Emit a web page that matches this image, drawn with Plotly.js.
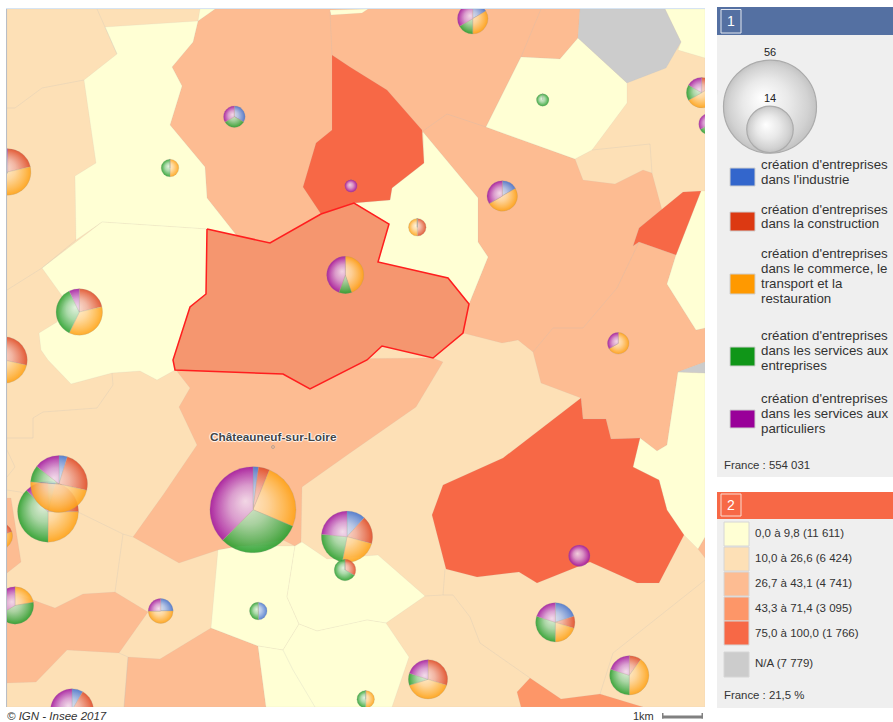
<!DOCTYPE html>
<html><head><meta charset="utf-8">
<script src="https://cdn.plot.ly/plotly-3.0.1.min.js"></script>
<style>html,body{margin:0;padding:0;background:#fff;overflow:hidden;width:893px;height:722px}
#wrap{position:absolute;left:0;top:0;width:893px;height:722px;overflow:hidden}
#chart{position:absolute;left:-60px;top:-60px}</style>
</head><body><div id="wrap"><div id="chart"></div></div>
<script>
// ---- pie data: firm creations per commune, by sector ----
const pieNames  = ['A','B','C','D','E','F','G','H','I','J','K','L','M','N','P','O','Q','R','S','T','U','V','W','X','Y','Z','AA','AB','AC'];
const industrie = [0,1,0,0,0,0,0,1,0,1,0,0,0,0,1,1,1,2,0,1,1,0,0,1,0,2,0,0,0];
const construction=[3,0,0,3,4,0,0,0,0,0,1,0,1,0,5,5,2,3,1,0,0,0,1,3,0,1,3,1,0];
const commerce  = [5,0,1,5,4,0,4,2,0,3,1,2,3,1,6,10,12,4,0,2,0,2,1,2,0,2,4,4,1];
const servEntr  = [2,1,1,5,3,0,1,1,1,0,0,0,1,1,9,2,15,4,2,0,1,4,1,2,0,3,1,3,1];
const servPart  = [4,1,0,1,3,1,4,2,0,2,0,1,1,1,3,3,18,4,0,1,0,3,2,4,3,2,2,2,0];
const pieCentreX= [7.7,234.3,170,79.3,4,351,345.3,472.7,542.7,502.3,417.3,618.3,701.7,709.5,48,59,253,347,345,160.7,258.3,15,-1.3,72,579.3,555.3,428,629.3,365.7];
const pieCentreY= [172,116.7,168,312,360,186,275,18.7,100,196,227.3,343.3,92.7,124,511.7,484,509.7,536.7,570,611,611,605.5,536,710.3,555.7,622.3,679.3,675.3,699.3];
const sectorLabels=["dans l'industrie","dans la construction","dans le commerce, le transport et la restauration","dans les services aux entreprises","dans les services aux particuliers"];
const sectorColors=['#3366CC','#DC3912','#FF9900','#109618','#990099'];
const sizeLegendValues=[56,14];
const sizeLegendCentreY=[106.7,129.3];

// ---- map polygons (outlines) ----
const classColors={c0:'#FFFFD4',c1:'#FDE0B6',c2:'#FDBC92',c3:'#FD9668',c4:'#F76846',na:'#CCCCCC',sel:'#F5966F'};
const base=[[7,9],[705,9],[705,707],[7,707]];
const northEast=[[215,9],[580,9],[578,38],[560,59],[521,57],[486,127],[575,159],[583,180],[615,184],[643,170],[652,173],[662,210],[639,228],[633,246],[639,242],[676,255],[667,284],[696,330],[705,328],[705,362],[678,372],[667,445],[657,451],[640,438],[611,439],[606,419],[583,419],[581,398],[541,383],[535,360],[533,352],[518,340],[502,343],[463,333],[469,304],[488,257],[478,242],[478,198],[423,132],[321,214],[270,243],[237,236],[207,198],[205,167],[170,125],[182,86],[172,67],[193,42],[198,21]];
const chateauneuf=[[173,360],[433,358],[443,362],[416,407],[350,453],[302,487],[301,542],[295,546],[283,540],[218,550],[179,563],[133,537],[163,495],[197,445],[179,407],[190,388],[172,365]];
const southWest=[[7,592],[33,600],[55,608],[83,594],[115,592],[148,612],[119,653],[67,650],[36,682],[7,683]];
const leftSliver=[[7,498],[11,498],[21,562],[7,573]];
const southMid=[[128,657],[160,659],[211,628],[258,646],[266,707],[124,707]];
const eastSliver=[[705,537],[698,549],[705,558]];
const y1=[[105,27],[198,21],[193,42],[172,67],[182,86],[170,125],[205,167],[207,198],[237,236],[207,229],[102,222],[76,240],[75,176],[96,163],[84,80],[117,54]];
const y2=[[102,222],[207,229],[206,294],[190,307],[173,360],[175,370],[157,380],[140,371],[112,373],[71,384],[48,360],[41,350],[39,333],[57,322],[65,300],[42,268]];
const y3=[[200,9],[215,9],[198,21]];
const y4=[[330,10],[368,9],[362,13],[331,15]];
const y5=[[354,203],[390,200],[392,188],[424,163],[423,132],[478,198],[478,242],[488,257],[469,304],[448,278],[378,262],[389,224]];
const y6=[[521,57],[560,59],[578,38],[627,83],[627,103],[592,150],[575,159],[486,127]];
const y7=[[665,9],[705,9],[705,58],[678,50],[681,42]];
const y8=[[701,191],[705,191],[705,328],[696,330],[667,284],[676,255]];
const y9=[[678,372],[705,373],[705,537],[698,549],[684,535],[667,510],[659,480],[633,467],[640,438],[657,451],[667,445]];
const y10=[[218,550],[240,546],[295,546],[287,597],[299,624],[283,650],[258,646],[211,628]];
const y11=[[302,542],[327,559],[378,555],[425,596],[386,623],[367,620],[350,624],[317,631],[299,624],[287,597],[295,546]];
const y12=[[283,650],[299,624],[317,631],[350,624],[367,620],[386,623],[409,657],[392,707],[266,707],[258,646]];
const naNorth=[[580,9],[665,9],[681,42],[666,68],[627,83],[578,38]];
const naEast=[[678,372],[705,362],[705,373]];
const r1=[[332,55],[350,67],[387,90],[422,130],[424,163],[392,188],[390,200],[354,203],[321,214],[303,187],[316,143],[332,130]];
const r2=[[683,192],[701,191],[676,255],[639,242],[633,246],[639,228]];
const r3=[[581,398],[583,419],[606,419],[611,439],[640,438],[633,467],[659,480],[667,510],[684,535],[659,583],[637,583],[590,562],[577,567],[537,583],[519,572],[477,577],[446,569],[432,515],[443,485],[503,458]];
const c3South=[[530,678],[561,699],[600,694],[643,707],[521,707],[517,692]];
const selected=[[207,229],[270,243],[321,214],[354,203],[389,224],[378,262],[448,278],[469,304],[463,333],[433,358],[382,346],[367,360],[310,389],[283,374],[175,370],[173,360],[190,307],[206,294]];
const regions=[[base,'c1'],[northEast,'c2'],[chateauneuf,'c2'],[southWest,'c2'],[leftSliver,'c2'],[southMid,'c2'],[eastSliver,'c2'],
 [y1,'c0'],[y2,'c0'],[y3,'c0'],[y4,'c0'],[y5,'c0'],[y6,'c0'],[y7,'c0'],[y8,'c0'],[y9,'c0'],[y10,'c0'],[y11,'c0'],[y12,'c0'],
 [naNorth,'na'],[naEast,'na'],[r1,'c4'],[r2,'c4'],[r3,'c4'],[c3South,'c3']];
const internalBorders=[
 [[97,9],[117,54]],[[84,80],[42,88],[15,108],[7,108]],[[76,240],[42,268],[7,290]],
 [[7,438],[33,438],[33,418],[43,412],[97,408],[113,385],[112,373]],
 [[7,490],[20,492],[80,513],[123,534],[133,537]],[[123,534],[115,592]],
 [[7,450],[15,467],[7,477]],[[445,569],[443,595],[425,596]],[[443,595],[453,595],[470,617],[480,643],[530,678]],
 [[600,694],[613,653],[705,580]],[[592,150],[650,144],[652,173]],[[423,131],[447,114],[486,127]],
 [[521,57],[541,9]],[[639,242],[617,288],[583,328],[553,328],[533,352]],[[332,55],[330,12]],
 [[128,657],[124,707]],[[119,653],[128,657]],[[283,650],[293,670],[315,707]]];

// ---- legend text ----
const legendLines=[["création d'entreprises",164],["dans l'industrie",179],["création d'entreprises",209],["dans la construction",223],
 ["création d'entreprises",253],["dans le commerce, le",268],["transport et la",283],["restauration",298],
 ["création d'entreprises",335],["dans les services aux",350],["entreprises",365],
 ["création d'entreprises",398],["dans les services aux",413],["particuliers",428]];
const sectorSwatchY=[[168,186],[212,231],[274,294],[347,366],[410,428]];
const classLabels=['0,0 à 9,8 (11 611)','10,0 à 26,6 (6 424)','26,7 à 43,1 (4 741)','43,3 à 71,4 (3 095)','75,0 à 100,0 (1 766)','N/A (7 779)'];
const classKeys=['c0','c1','c2','c3','c4','na'];
const classSwatchY=[[522,546],[547,571],[572,596],[597,621],[621,645],[652,677]];
const classLabelY=[533,558,583,608,633,663];

// ---- layout frame ----
const PAD=60, W=893+2*PAD, H=722+2*PAD, FONT='"Liberation Sans",Arial,sans-serif';
const sizeScale=46.5/Math.sqrt(56);
const domainOf=(cx,cy,r)=>({x:[(cx-r+PAD)/W,(cx+r+PAD)/W],y:[1-(cy+r+PAD)/H,1-(cy-r+PAD)/H]});
const traces=[], meta=[];
const xy=p=>({x:p.map(q=>q[0]).concat(p[0][0]),y:p.map(q=>q[1]).concat(p[0][1])});
regions.forEach(([p,k])=>traces.push({type:'scatter',mode:'lines',...xy(p),fill:'toself',fillcolor:classColors[k],
  line:{color:'rgba(185,185,185,0.12)',width:1},hoverinfo:'skip',showlegend:false}));
internalBorders.forEach(p=>traces.push({type:'scatter',mode:'lines',x:p.map(q=>q[0]),y:p.map(q=>q[1]),
  line:{color:'rgba(185,185,185,0.22)',width:1},hoverinfo:'skip',showlegend:false}));
traces.push({type:'scatter',mode:'lines',...xy(selected),fill:'toself',fillcolor:classColors.sel,
  line:{color:'#FF1E1E',width:1.5},hoverinfo:'skip',showlegend:false});

pieNames.forEach((n,i)=>{
  const v=[industrie[i],construction[i],commerce[i],servEntr[i],servPart[i]];
  const total=v.reduce((a,b)=>a+b,0), r=sizeScale*Math.sqrt(total);
  traces.push({type:'pie',name:n,values:v,labels:sectorLabels,sort:false,direction:'clockwise',rotation:0,textinfo:'none',
    hoverinfo:'label+value',showlegend:false,opacity:0.88,domain:domainOf(pieCentreX[i],pieCentreY[i],r),
    marker:{colors:sectorColors,line:{color:'rgba(150,150,150,0.4)',width:0.6}}});
  meta.push({cx:pieCentreX[i]+PAD,cy:pieCentreY[i]+PAD,r,stops:[[0,0.86],[0.45,0.6],[0.8,0.28],[1,0.08]]});
});
sizeLegendValues.forEach((val,i)=>{
  const r=sizeScale*Math.sqrt(val);
  traces.push({type:'pie',values:[val],labels:[String(val)],sort:false,textinfo:'none',hoverinfo:'skip',showlegend:false,
    domain:domainOf(770,sizeLegendCentreY[i],r),marker:{colors:['#B4B4B4'],line:{color:'#ABABAB',width:1.2}}});
  meta.push({cx:770+PAD,cy:sizeLegendCentreY[i]+PAD,r,stops:[[0,1],[0.5,0.7],[0.85,0.4],[1,0.2]]});
});

// ---- shapes ----
const rect=(x0,y0,x1,y1,fill,layer,line)=>({type:'rect',xref:'x',yref:'y',x0,y0,x1,y1,fillcolor:fill,layer:layer||'above',line:line||{width:0}});
const shapes=[
 rect(-60,-60,6.5,782,'#fff'),rect(-60,-60,717,8.5,'#fff'),rect(-60,707,717,782,'#fff'),rect(705,-60,717,782,'#fff'),
 rect(717,110,722,137,'#EFEFEF'),
 {type:'line',xref:'x',yref:'y',x0:6.5,x1:6.5,y0:8,y1:707,line:{color:'#B9BEC6',width:1}},
 {type:'line',xref:'x',yref:'y',x0:6,x1:705,y0:8.5,y1:8.5,line:{color:'#D6E4F2',width:1.2}},
 rect(717,35,893,477,'#EFEFEF','below'),rect(717,7,893,35,'#5470A2','below'),
 rect(721,9.5,741,33,'rgba(0,0,0,0)','below',{color:'#E4E8F0',width:1}),
 rect(717,519,893,708,'#EFEFEF','below'),rect(717,492,893,519,'#F76846','below'),
 rect(721,494,741,516,'rgba(0,0,0,0)','below',{color:'#FBDCD0',width:1}),
 {type:'circle',xref:'x',yref:'y',x0:271.5,x1:274.5,y0:445.5,y1:448.5,fillcolor:'rgba(0,0,0,0)',line:{color:'#999',width:0.7}},
 // scale bar
 rect(662,715.5,703,718.5,'#808080'),rect(662,713,663.5,718.5,'#808080'),rect(701.5,713,703,718.5,'#808080')
];
sectorColors.forEach((c,i)=>shapes.push(rect(730,sectorSwatchY[i][0],755,sectorSwatchY[i][1],c,'below',{color:'#CFCFCF',width:1})));
classKeys.forEach((k,i)=>shapes.push(rect(724,classSwatchY[i][0],749,classSwatchY[i][1],classColors[k],'below',{color:'#D6D6D6',width:1})));

// ---- annotations ----
const txt=(x,y,text,size,color,extra)=>Object.assign({xref:'x',yref:'y',x,y,text,showarrow:false,xanchor:'left',yanchor:'middle',
  font:{family:FONT,size,color:color||'#333'}},extra||{});
const annotations=[
 txt(725,21,'1',14,'#fff'),txt(725,505,'2',14,'#fff'),
 txt(770,51.5,'56',11,'#222',{xanchor:'center'}),txt(770,98,'14',11,'#222',{xanchor:'center'}),
 txt(722,465,'France : 554 031',11.4),txt(722,695,'France : 21,5 %',11.4),
 txt(5,716,'© IGN - Insee 2017',11.5,'#333',{font:{family:FONT,size:11.5,color:'#333',style:'italic'}}),
 txt(631,715.5,'1km',11,'#333'),
 txt(273,437,'<b>Châteauneuf-sur-Loire</b>',11.8,'#444',{xanchor:'center',
   font:{family:FONT,size:11.8,color:'#444',shadow:'1px 0 1px #fff,-1px 0 1px #fff,0 1px 1px #fff,0 -1px 1px #fff'}})
];
legendLines.forEach(([t,y])=>annotations.push(txt(759,y,t,13.3)));
classLabels.forEach((t,i)=>annotations.push(txt(753,classLabelY[i],t,11.5)));

const layout={width:W,height:H,margin:{l:0,r:0,t:0,b:0,pad:0},paper_bgcolor:'#fff',plot_bgcolor:'#fff',showlegend:false,
  xaxis:{range:[-PAD,893+PAD],visible:false,fixedrange:true},
  yaxis:{range:[722+PAD,-PAD],visible:false,fixedrange:true},
  shapes,annotations,hovermode:'closest'};

// radial sheen on each slice (same look as the reference's glossy pies)
function mix(rgb,t){return 'rgb('+rgb.map(v=>Math.round(v+(255-v)*t)).join(',')+')';}
function gloss(gd){
  const svg=gd.querySelector('.main-svg'), NS='http://www.w3.org/2000/svg';
  const defs=document.createElementNS(NS,'defs'); svg.insertBefore(defs,svg.firstChild);
  gd.querySelectorAll('.pielayer .trace').forEach((tr,i)=>{
    const m=meta[i]; if(!m)return;
    tr.querySelectorAll('path.surface').forEach((p,j)=>{
      const rgb=(p.style.fill.match(/[\d.]+/g)||[]).slice(0,3).map(Number);
      if(rgb.length<3)return;
      const g=document.createElementNS(NS,'radialGradient'), id='gl'+i+'_'+j;
      g.setAttribute('id',id);g.setAttribute('gradientUnits','userSpaceOnUse');
      g.setAttribute('cx',m.cx);g.setAttribute('cy',m.cy);g.setAttribute('r',m.r);
      g.setAttribute('fx',m.cx-m.r*0.18);g.setAttribute('fy',m.cy-m.r*0.2);
      m.stops.forEach(([o,t])=>{
        const s=document.createElementNS(NS,'stop');s.setAttribute('offset',o);s.setAttribute('stop-color',mix(rgb,t));g.appendChild(s);});
      defs.appendChild(g);
      p.style.fill='url(#'+id+')';
    });
  });
}
Plotly.newPlot('chart',traces,layout,{displayModeBar:false,staticPlot:true}).then(gloss);
</script></body></html>
